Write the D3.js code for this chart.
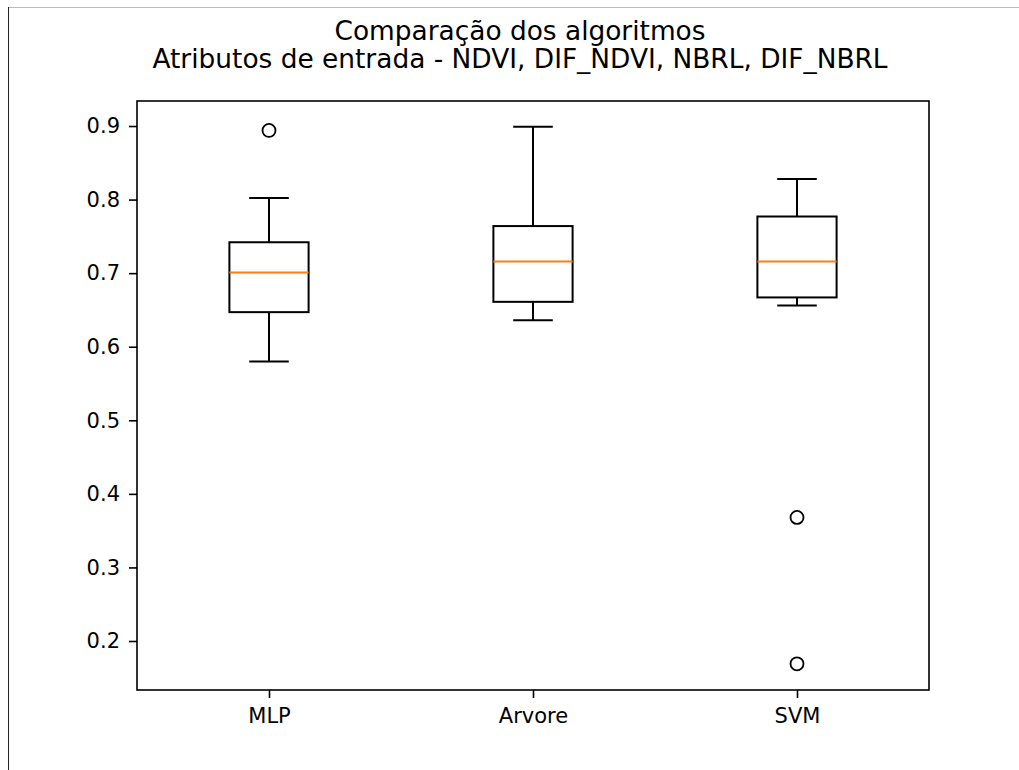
<!DOCTYPE html>
<html>
<head>
<meta charset="utf-8">
<script src="https://cdn.jsdelivr.net/npm/d3@7"></script>
<style>
  body { margin: 0; background: #fff; }
  svg { display: block; }
  text { font-family: "DejaVu Sans", sans-serif; fill: #000; }
</style>
</head>
<body>
<svg id="chart" width="1019" height="770"></svg>
<script>
const categories = ["MLP", "Arvore", "SVM"];
const whiskerLow = [0.580, 0.636, 0.656];
const q1 = [0.647, 0.661, 0.667];
const median = [0.701, 0.716, 0.716];
const q3 = [0.742, 0.764, 0.777];
const whiskerHigh = [0.802, 0.899, 0.828];
const outliers = [[0.894], [], [0.368, 0.169]];
const yTicks = [0.2, 0.3, 0.4, 0.5, 0.6, 0.7, 0.8, 0.9];
const titleLines = ["Comparação dos algoritmos", "Atributos de entrada - NDVI, DIF_NDVI, NBRL, DIF_NBRL"];

const svg = d3.select("#chart");
const m = { left: 137, right: 929, top: 101, bottom: 690 };

// page frame lines
svg.append("line").attr("x1", 8).attr("x2", 1019).attr("y1", 7.5).attr("y2", 7.5)
  .attr("stroke", "#bbb").attr("stroke-width", 1);
svg.append("line").attr("x1", 8.5).attr("x2", 8.5).attr("y1", 7).attr("y2", 770)
  .attr("stroke", "#222").attr("stroke-width", 1);

const x = d3.scaleLinear().domain([0.5, 3.5]).range([m.left, m.right]);
const y = d3.scaleLinear().domain([0.1334, 0.934]).range([m.bottom, m.top]);

const boxW = x(1.15) - x(1);   // half width 0.15
const capW = x(1.075) - x(1);  // half cap width

// axes
const yAxis = d3.axisLeft(y).tickValues(yTicks).tickFormat(d3.format(".1f")).tickSize(8).tickPadding(9);
const gy = svg.append("g").attr("transform", `translate(${m.left},0)`).call(yAxis);
const xAxis = d3.axisBottom(x).tickValues([1, 2, 3]).tickFormat((d, i) => categories[i]).tickSize(8).tickPadding(10);
const gx = svg.append("g").attr("transform", `translate(0,${m.bottom})`).call(xAxis);
[gy, gx].forEach(g => {
  g.select(".domain").remove();
  g.selectAll(".tick line").attr("stroke", "#000").attr("stroke-width", 1.6);
  g.selectAll(".tick text").attr("font-size", 21).attr("font-family", "DejaVu Sans").attr("fill", "#000");
});

// boxes
const g = svg.append("g");
categories.forEach((c, i) => {
  const cx = x(i + 1);
  const stroke = "#000", sw = 2;
  g.append("line").attr("x1", cx).attr("x2", cx).attr("y1", y(whiskerLow[i])).attr("y2", y(q1[i])).attr("stroke", stroke).attr("stroke-width", sw);
  g.append("line").attr("x1", cx).attr("x2", cx).attr("y1", y(q3[i])).attr("y2", y(whiskerHigh[i])).attr("stroke", stroke).attr("stroke-width", sw);
  g.append("line").attr("x1", cx - capW).attr("x2", cx + capW).attr("y1", y(whiskerLow[i])).attr("y2", y(whiskerLow[i])).attr("stroke", stroke).attr("stroke-width", sw);
  g.append("line").attr("x1", cx - capW).attr("x2", cx + capW).attr("y1", y(whiskerHigh[i])).attr("y2", y(whiskerHigh[i])).attr("stroke", stroke).attr("stroke-width", sw);
  g.append("rect").attr("x", cx - boxW).attr("width", 2 * boxW)
    .attr("y", y(q3[i])).attr("height", y(q1[i]) - y(q3[i]))
    .attr("fill", "none").attr("stroke", stroke).attr("stroke-width", sw);
  g.append("line").attr("x1", cx - boxW).attr("x2", cx + boxW).attr("y1", y(median[i])).attr("y2", y(median[i])).attr("stroke", "#ff7f0e").attr("stroke-width", 2);
  outliers[i].forEach(v => {
    g.append("circle").attr("cx", cx).attr("cy", y(v)).attr("r", 6.5)
      .attr("fill", "none").attr("stroke", "#000").attr("stroke-width", 1.8);
  });
});

// axes frame
svg.append("rect").attr("x", m.left).attr("y", m.top).attr("width", m.right - m.left).attr("height", m.bottom - m.top)
  .attr("fill", "none").attr("stroke", "#000").attr("stroke-width", 1.6);

// title
const titleX = 520;
svg.append("text").attr("x", titleX).attr("y", 40).attr("text-anchor", "middle")
  .attr("font-size", 26.4).text(titleLines[0]);
svg.append("text").attr("x", titleX).attr("y", 68).attr("text-anchor", "middle")
  .attr("font-size", 26.4).text(titleLines[1]);
</script>
</body>
</html>
